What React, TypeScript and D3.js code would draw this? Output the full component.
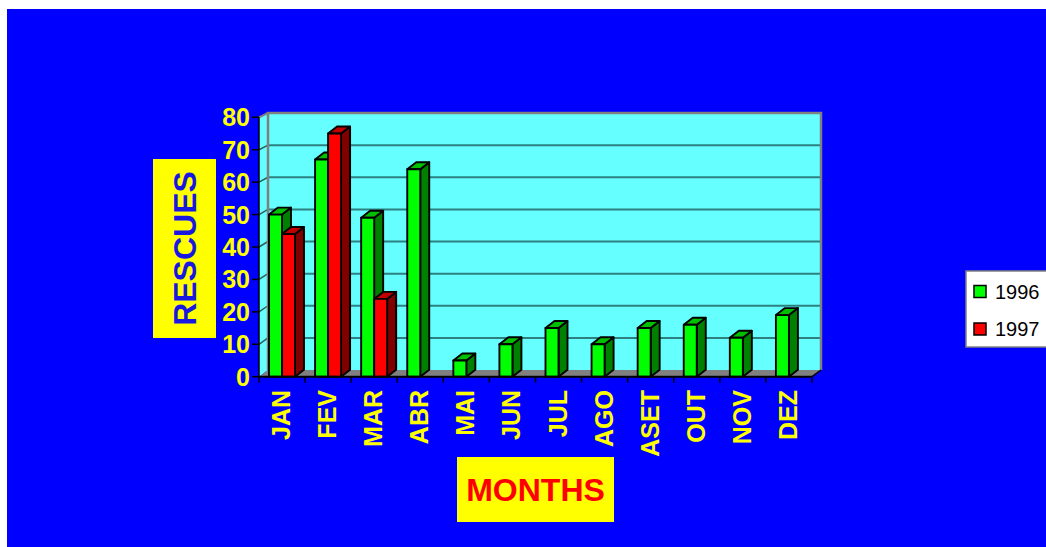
import React from "react";
import * as d3 from "d3";

const months = ["JAN", "FEV", "MAR", "ABR", "MAI", "JUN", "JUL", "AGO", "ASET", "OUT", "NOV", "DEZ"];
const series = ["1996", "1997"];
const values1996 = [50, 67, 49, 64, 5, 10, 15, 10, 15, 16, 12, 19];
const values1997 = [44, 75, 24, null, null, null, null, null, null, null, null, null];
const yTicks = [0, 10, 20, 30, 40, 50, 60, 70, 80];

const FONT = "'Liberation Sans', Arial, sans-serif";

const colors: Record<string, { front: string; side: string; top: string }> = {
  "1996": { front: "#00FF00", side: "#008000", top: "#00C000" },
  "1997": { front: "#FF0000", side: "#800000", top: "#C00000" },
};

export default function App() {
  const W = 1046, H = 547;
  const x0 = 259, x1 = 812;
  const DX = 9, DY = -7;
  const x = d3.scaleBand<string>().domain(months).range([x0, x1]).paddingInner(0).paddingOuter(0);
  const inner = d3.scaleBand<string>().domain(series).range([10, 36]);
  const yF = d3.scaleLinear().domain([0, 80]).range([376.7, 117.3]);
  const yB = d3.scaleLinear().domain([0, 80]).range([370, 113]);

  const data: Record<string, (number | null)[]> = { "1996": values1996, "1997": values1997 };

  const bars: React.ReactNode[] = [];
  months.forEach((m, i) => {
    series.forEach((s) => {
      const v = data[s][i];
      if (v == null) return;
      const bx0 = (x(m) as number) + (inner(s) as number);
      const bx1 = bx0 + inner.bandwidth();
      const yt = yF(v);
      const yb = yF(0);
      const c = colors[s];
      const pts = (arr: number[][]) => arr.map((p) => p.join(",")).join(" ");
      bars.push(
        <g key={m + s} stroke="#000" strokeWidth={1.9} strokeLinejoin="round">
          <polygon points={pts([[bx1, yb], [bx1, yt], [bx1 + DX, yt + DY], [bx1 + DX, yb + DY]])} fill={c.side} />
          <polygon points={pts([[bx0, yt], [bx1, yt], [bx1 + DX, yt + DY], [bx0 + DX, yt + DY]])} fill={c.top} />
          <rect x={bx0} y={yt} width={bx1 - bx0} height={yb - yt} fill={c.front} />
        </g>
      );
    });
  });

  return (
    <div style={{ position: "absolute", left: 0, top: 0 }}>
      <svg width={W} height={H} style={{ display: "block" }}>
        <rect x={0} y={0} width={W} height={H} fill="#fff" />
        <rect x={7} y={9} width={W - 7} height={H - 9} fill="#0000FF" />

        {/* left side wall */}
        <polygon points={`${x0},${yF(0)} ${x0},${yF(80)} ${x0 + DX},${yB(80)} ${x0 + DX},${yB(0)}`} fill="#66FFFF" />
        {/* back wall */}
        <rect x={x0 + DX} y={yB(80)} width={x1 - x0} height={yB(0) - yB(80)} fill="#66FFFF" />
        {/* gridlines */}
        {yTicks.filter((t) => t > 0 && t < 80).map((t) => (
          <g key={t}>
            <line x1={x0 + DX} x2={x1 + DX} y1={yB(t)} y2={yB(t)} stroke="#2E8080" strokeWidth={2} />
            <line x1={x0} x2={x0 + DX} y1={yF(t)} y2={yB(t)} stroke="#2E6060" strokeWidth={1.5} />
          </g>
        ))}
        {/* back wall border */}
        <polyline
          points={`${x0 + DX},${yB(0)} ${x0 + DX},${yB(80)} ${x1 + DX},${yB(80)} ${x1 + DX},${yB(0)}`}
          fill="none" stroke="#808080" strokeWidth={2.5}
        />
        <line x1={x0} y1={yF(80)} x2={x0 + DX} y2={yB(80)} stroke="#808080" strokeWidth={2} />
        {/* floor */}
        <polygon points={`${x0},${yF(0)} ${x1},${yF(0)} ${x1 + DX},${yB(0)} ${x0 + DX},${yB(0)}`} fill="#808080" />

        {bars}

        {/* axes */}
        <line x1={x0} x2={x0} y1={yF(0)} y2={yF(80)} stroke="#000" strokeWidth={1.5} />
        <line x1={x0} x2={x1} y1={yF(0)} y2={yF(0)} stroke="#000" strokeWidth={2} />
        <line x1={x1} x2={x1 + DX} y1={yF(0)} y2={yB(0)} stroke="#000" strokeWidth={1.5} />
        {yTicks.map((t) => (
          <g key={"yt" + t}>
            <line x1={x0 - 7} x2={x0} y1={yF(t)} y2={yF(t)} stroke="#000" strokeWidth={1.5} />
            <text x={250} y={yF(t)} dy="0.36em" textAnchor="end" fill="#FFFF00" fontFamily={FONT} fontWeight="bold" fontSize={25}>
              {t}
            </text>
          </g>
        ))}
        {months.map((m) => (
          <line key={"xt" + m} x1={x(m) as number} x2={x(m) as number} y1={yF(0)} y2={yF(0) + 6} stroke="#000" strokeWidth={1.5} />
        ))}
        <line x1={x1} x2={x1} y1={yF(0)} y2={yF(0) + 6} stroke="#000" strokeWidth={1.5} />
        {months.map((m) => {
          const cx = (x(m) as number) + x.bandwidth() / 2 - 1;
          return (
            <text key={"xl" + m} transform={`translate(${cx},390) rotate(-90)`} textAnchor="end" dy="0.36em"
              fill="#FFFF00" fontFamily={FONT} fontWeight="bold" fontSize={25}>
              {m}
            </text>
          );
        })}

        {/* y title */}
        <rect x={153} y={159} width={63} height={179} fill="#FFFF00" />
        <text transform="translate(184.5,248.5) rotate(-90)" textAnchor="middle" dy="0.36em"
          fill="#1818E0" fontFamily={FONT} fontWeight="bold" fontSize={32}>
          RESCUES
        </text>

        {/* x title */}
        <rect x={457} y={457} width={157} height={65} fill="#FFFF00" />
        <text x={535.5} y={489.5} textAnchor="middle" dy="0.36em" fill="#FF0000" fontFamily={FONT} fontWeight="bold" fontSize={32}>
          MONTHS
        </text>

        {/* legend */}
        <rect x={966} y={271} width={90} height={76} fill="#fff" stroke="#808080" strokeWidth={1.5} />
        {series.map((s, i) => {
          const cy = 291.5 + i * 37.5;
          return (
            <g key={"lg" + s}>
              <rect x={974} y={cy - 6} width={12} height={12} fill={colors[s].front} stroke="#000" strokeWidth={1.5} />
              <text x={995} y={cy} dy="0.36em" fill="#000" fontFamily={FONT} fontSize={20}>
                {s}
              </text>
            </g>
          );
        })}
      </svg>
    </div>
  );
}
